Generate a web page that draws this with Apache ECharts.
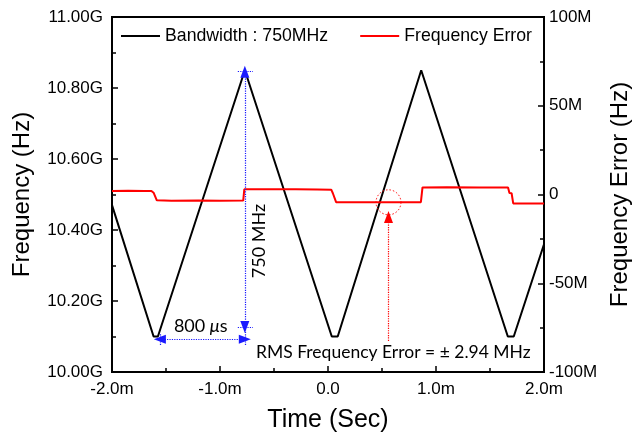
<!DOCTYPE html>
<html>
<head>
<meta charset="utf-8">
<script src="https://cdn.jsdelivr.net/npm/echarts@6/dist/echarts.min.js"></script>
<style>
  html, body { margin: 0; padding: 0; background: #fff; }
  #chart { width: 640px; height: 434px; }
</style>
</head>
<body>
<div id="chart"></div>
<script>
// Sweep frequency (GHz) vs time (ms): triangular chirp with short flat bottoms
const sweepTime = [-2.0, -1.615, -1.575, -0.77, 0.035, 0.09, 0.863, 1.665, 1.72, 2.0];
const sweepFreq = [10.47, 10.10, 10.10, 10.85, 10.10, 10.10, 10.85, 10.10, 10.10, 10.36];

// Frequency error (MHz) vs time (ms)
const errTime = [-2.0, -1.85, -1.70, -1.635, -1.615, -1.600, -1.585, -1.45, -1.2, -1.0, -0.785,
                 -0.775, -0.6, -0.3, -0.1, 0.03, 0.045, 0.06, 0.075, 0.3, 0.6, 0.86,
                 0.875, 1.1, 1.4, 1.667, 1.68, 1.70, 1.715, 2.0];
const errVal  = [2.0, 2.1, 2.0, 2.0, 1.0, 0.9, -3.3, -3.5, -3.4, -3.5, -3.4,
                 2.9, 3.0, 2.9, 2.8, 2.7, 0.7, 0.6, -4.3, -4.3, -4.4, -4.3,
                 4.0, 4.1, 4.0, 4.0, 0.8, 0.7, -5.0, -5.0];

// Axis ranges
const timeRange = [-2, 2, 1];        // ms
const freqRange = [10.0, 11.0, 0.2]; // GHz
const errRange = [-100, 100, 50];    // MHz

const seriesNames = ['Bandwidth : 750MHz', 'Frequency Error'];

// Annotation anchors (time ms, frequency GHz / error MHz)
const bwTime = -0.77, bwLow = 10.127, bwHigh = 10.846;
const rampStart = -1.557, rampY = 10.092;
const rmsMark = [0.56, -4.4];
const rmsArrow = [-82.5, -12.7];
const rmsText = 'RMS Frequency Error = \u00b1 2.94 MHz';

const sweepData = sweepTime.map((t, i) => [t, sweepFreq[i]]);
const errData = errTime.map((t, i) => [t, errVal[i]]);

const tickFont = { fontFamily: 'Liberation Sans', fontSize: 17, color: '#000' };
const titleFont = { fontFamily: 'Liberation Sans', fontSize: 24, color: '#000' };
const noteFont = 'Lato';
const blue = '#1a1aff';

const blueDotted = { color: blue, type: 'dotted', width: 1.2 };

const chart = echarts.init(document.getElementById('chart'), null, { renderer: 'canvas' });

chart.setOption({
  animation: false,
  backgroundColor: '#fff',
  grid: {
    left: 112, right: 96, top: 17, bottom: 62,
    outerBoundsMode: 'none', containLabel: false,
    show: true, borderColor: '#000', borderWidth: 2, backgroundColor: 'transparent'
  },
  legend: {
    data: seriesNames,
    icon: 'rect',
    left: 121, top: 27, padding: 0,
    itemWidth: 39, itemHeight: 2, itemGap: 32,
    textStyle: { fontFamily: 'Liberation Sans', fontSize: 17.7, color: '#000' }
  },
  xAxis: {
    type: 'value',
    min: timeRange[0], max: timeRange[1], interval: timeRange[2],
    name: 'Time (Sec)', nameLocation: 'middle', nameGap: 36,
    nameTextStyle: Object.assign({}, titleFont, { fontSize: 25 }),
    axisLine: { show: true, onZero: false, lineStyle: { color: '#000', width: 2 } },
    axisTick: { show: true, inside: true, length: 6, lineStyle: { color: '#000', width: 1.5 } },
    minorTick: { show: true, splitNumber: 2, length: 4, lineStyle: { color: '#000', width: 1.5 } },
    splitLine: { show: false },
    axisLabel: Object.assign({ margin: 9,
      formatter: v => (v === 0 ? '0.0' : v.toFixed(1) + 'm') }, tickFont)
  },
  yAxis: [
    {
      type: 'value', position: 'left',
      min: freqRange[0], max: freqRange[1], interval: freqRange[2],
      name: 'Frequency (Hz)', nameLocation: 'middle', nameRotate: 90, nameGap: 78,
      nameTextStyle: titleFont,
      axisLine: { show: true, onZero: false, lineStyle: { color: '#000', width: 2 } },
      axisTick: { show: true, inside: true, length: 6, lineStyle: { color: '#000', width: 1.5 } },
      minorTick: { show: true, splitNumber: 2, length: 4, lineStyle: { color: '#000', width: 1.5 } },
      splitLine: { show: false },
      axisLabel: Object.assign({ margin: 9, formatter: v => v.toFixed(2) + 'G' }, tickFont)
    },
    {
      type: 'value', position: 'right',
      min: errRange[0], max: errRange[1], interval: errRange[2],
      name: 'Frequency Error (Hz)', nameLocation: 'middle', nameRotate: 90, nameGap: 52,
      nameTextStyle: titleFont,
      axisLine: { show: true, onZero: false, lineStyle: { color: '#000', width: 2 } },
      axisTick: { show: true, inside: true, length: 6, lineStyle: { color: '#000', width: 1.5 } },
      minorTick: { show: true, splitNumber: 2, length: 4, lineStyle: { color: '#000', width: 1.5 } },
      splitLine: { show: false },
      axisLabel: Object.assign({ margin: 5, formatter: v => (v === 0 ? '0' : v + 'M') }, tickFont)
    }
  ],
  series: [
    {
      name: seriesNames[0], type: 'line', yAxisIndex: 0,
      data: sweepData, symbol: 'none', z: 3,
      lineStyle: { color: '#000', width: 2 }, itemStyle: { color: '#000' },
      markLine: {
        silent: true, animation: false, symbolSize: [9, 12],
        label: { show: false },
        lineStyle: blueDotted,
        data: [
          // bandwidth span, arrows at both ends
          [{ coord: [bwTime, bwLow], symbol: 'triangle' }, { coord: [bwTime, bwHigh], symbol: 'triangle' }],
          [{ coord: [bwTime, 10.076], symbol: 'none' }, { coord: [bwTime, bwLow], symbol: 'none' }],
          [{ coord: [bwTime - 0.065, bwHigh], symbol: 'none' }, { coord: [bwTime + 0.075, bwHigh], symbol: 'none' }],
          [{ coord: [bwTime - 0.065, bwLow], symbol: 'none' }, { coord: [bwTime + 0.075, bwLow], symbol: 'none' }],
          // ramp duration, arrows at both ends
          [{ coord: [rampStart, rampY], symbol: 'triangle' }, { coord: [bwTime, rampY], symbol: 'triangle' }],
          [{ coord: [rampStart, 10.076], symbol: 'none' }, { coord: [rampStart, 10.11], symbol: 'none' }]
        ]
      }
    },
    {
      name: seriesNames[1], type: 'line', yAxisIndex: 1,
      data: errData, symbol: 'none', z: 4,
      lineStyle: { color: '#ff0000', width: 2 }, itemStyle: { color: '#ff0000' },
      markLine: {
        silent: true, animation: false, symbolSize: [9, 12],
        label: { show: false },
        lineStyle: { color: '#ff0000', type: 'dotted', width: 1.2 },
        data: [
          [{ coord: [rmsMark[0], rmsArrow[0]], symbol: 'none' }, { coord: [rmsMark[0], rmsArrow[1]], symbol: 'triangle' }]
        ]
      }
    }
  ]
});

// Text and circle annotations placed through the axis scales
function px(t, v, yIdx) {
  return chart.convertToPixel({ xAxisIndex: 0, yAxisIndex: yIdx }, [t, v]);
}
const pRamp = px(-1.178, 10.130, 0);
const pBw = px(-0.633, 10.369, 0);
const pRms = px(0.605, 10.054, 0);
const pCircle = px(rmsMark[0], rmsMark[1], 1);

chart.setOption({
  graphic: [
    {
      type: 'text', x: pRamp[0], y: pRamp[1], z: 10,
      style: {
        text: '{n|800 }{u|\u03bc}{n|s}', align: 'center', verticalAlign: 'middle',
        rich: {
          n: { fontFamily: noteFont, fontSize: 18, fill: '#000' },
          u: { fontFamily: noteFont, fontSize: 18, fontStyle: 'italic', fill: '#000' }
        }
      }
    },
    {
      type: 'text', x: pBw[0], y: pBw[1], rotation: Math.PI / 2, z: 10,
      style: {
        text: '750 MHz', align: 'center', verticalAlign: 'middle',
        fontFamily: noteFont, fontSize: 18, fill: '#000'
      }
    },
    {
      type: 'text', x: pRms[0], y: pRms[1], z: 10,
      style: {
        text: rmsText, align: 'center', verticalAlign: 'middle',
        fontFamily: noteFont, fontSize: 17.5, fill: '#000'
      }
    },
    {
      type: 'circle', shape: { cx: pCircle[0], cy: pCircle[1], r: 12.5 }, z: 10,
      style: { fill: 'none', stroke: '#ff0000', lineWidth: 1, lineDash: [1.5, 2] }
    }
  ]
});
</script>
</body>
</html>
